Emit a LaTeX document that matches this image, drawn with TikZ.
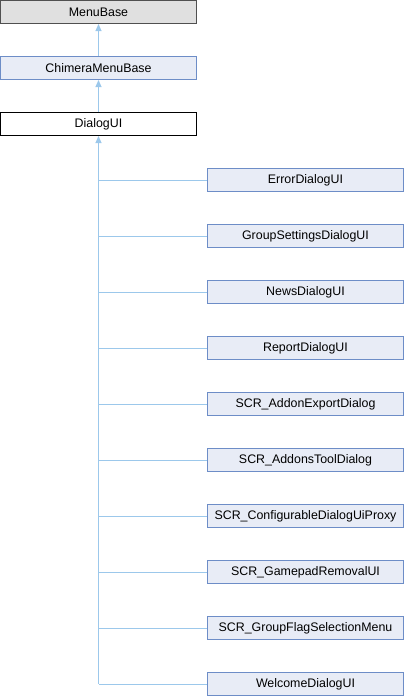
\documentclass[tikz,border=0pt]{standalone}
\usepackage{fontspec}
\setmainfont{Liberation Sans}
\usetikzlibrary{arrows.meta}
\definecolor{edgec}{RGB}{156,200,235}
\definecolor{boxfill}{RGB}{232,236,246}
\definecolor{boxdraw}{RGB}{109,141,199}
\definecolor{greyfill}{RGB}{224,224,224}
\definecolor{greydraw}{RGB}{80,80,80}
\begin{document}
\begin{tikzpicture}[x=1pt,y=-1pt,
  cls/.style={draw=boxdraw,fill=boxfill,line width=1pt,minimum width=196pt,minimum height=23pt,inner sep=0pt,font=\fontsize{12.4}{14}\selectfont},
  ext/.style={cls,draw=greydraw,fill=greyfill},
  cur/.style={cls,draw=black,fill=white},
  edge/.style={draw=edgec,line width=1pt},
  inh/.style={edge,-{Triangle[width=6pt,length=7pt]}}]
\useasboundingbox (0,0) rectangle (404,696);
\node[ext] (mb) at (98.5,12) {MenuBase};
\node[cls] (cmb) at (98.5,68) {ChimeraMenuBase};
\node[cur] (dlg) at (98.5,124) {DialogUI};
\draw[inh] (cmb.north) -- (mb.south);
\draw[inh] (dlg.north) -- (cmb.south);
\foreach \n/\t [count=\i from 0] in {
  c0/ErrorDialogUI,
  c1/GroupSettingsDialogUI,
  c2/NewsDialogUI,
  c3/ReportDialogUI,
  c4/SCR\_AddonExportDialog,
  c5/SCR\_AddonsToolDialog,
  c6/SCR\_ConfigurableDialogUiProxy,
  c7/SCR\_GamepadRemovalUI,
  c8/SCR\_GroupFlagSelectionMenu,
  c9/WelcomeDialogUI}{
  \node[cls] (\n) at (305.5,180+56*\i) {\t};
}
\coordinate (bottom) at (dlg.south |- c9.west);
\draw[edge] (bottom) -- ([yshift=-7pt]dlg.south);
\draw[inh] ([yshift=-8pt]dlg.south) -- (dlg.south);
\foreach \n in {c0,c1,c2,c3,c4,c5,c6,c7,c8,c9}{
  \draw[edge] (\n.west) -- (\n.west -| dlg.south);
}
\end{tikzpicture}
\end{document}
